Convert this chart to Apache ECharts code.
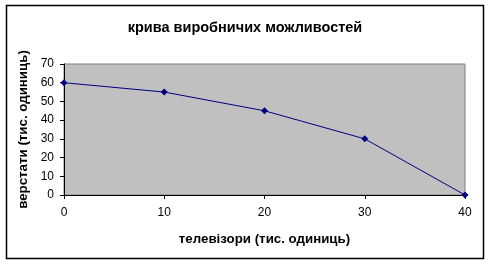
<!DOCTYPE html>
<html><head><meta charset="utf-8">
<script src="https://cdn.jsdelivr.net/npm/echarts@6/dist/echarts.min.js"></script>
<style>html,body{margin:0;padding:0;background:#fff}#c{width:490px;height:265px}</style>
</head><body><div id="c"></div>
<script>
const xValues = [0, 10, 20, 30, 40];
const yValues = [60, 55, 45, 30, 0];
const titleText = 'крива виробничих можливостей';
const xName = 'телевізори (тис. одиниць)';
const yName = 'верстати (тис. одиниць)';
const F = '"Liberation Sans", Arial, sans-serif';
const chart = echarts.init(document.getElementById('c'), null, {renderer: 'canvas'});
chart.setOption({
  animation: false,
  backgroundColor: '#fff',
  title: {text: titleText, left: 'center', top: 15, textStyle: {fontFamily: F, fontSize: 14.5, fontWeight: 'bold', color: '#000'}},
  graphic: [{type: 'rect', shape: {x: 6.5, y: 5.5, width: 477, height: 253}, style: {fill: 'none', stroke: '#000', lineWidth: 1.5}, z: -1}],
  grid: {left: 64, right: 25, top: 64, bottom: 70, show: true, backgroundColor: '#c0c0c0', borderColor: '#808080', borderWidth: 1},
  xAxis: {type: 'value', min: 0, max: 40, interval: 10, name: xName, nameLocation: 'middle', nameGap: 38,
    nameTextStyle: {fontFamily: F, fontSize: 13.3, fontWeight: 'bold', color: '#000'},
    axisLine: {show: true, onZero: false, lineStyle: {color: '#000'}},
    axisTick: {show: true, length: 4, lineStyle: {color: '#000'}},
    axisLabel: {fontFamily: F, fontSize: 12, color: '#000', margin: 12},
    splitLine: {show: false}},
  yAxis: {type: 'value', min: 0, max: 70, interval: 10, name: yName, nameLocation: 'middle', nameGap: 28,
    nameTextStyle: {fontFamily: F, fontSize: 13.3, fontWeight: 'bold', color: '#000'},
    axisLine: {show: true, lineStyle: {color: '#000'}},
    axisTick: {show: true, length: 4, lineStyle: {color: '#000'}},
    axisLabel: {fontFamily: F, fontSize: 12, color: '#000', margin: 10},
    splitLine: {show: false}},
  series: [{type: 'line', data: xValues.map((x, i) => [x, yValues[i]]),
    symbol: 'diamond', symbolSize: 7, showSymbol: true,
    lineStyle: {color: '#000080', width: 1}, itemStyle: {color: '#000080'}, clip: false}]
});
</script></body></html>
